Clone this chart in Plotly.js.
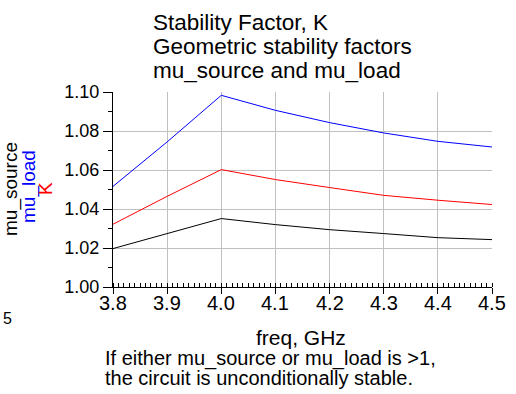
<!DOCTYPE html>
<html>
<head>
<meta charset="utf-8">
<script src="https://cdn.plot.ly/plotly-3.0.1.min.js"></script>
<style>html,body{margin:0;padding:0;background:#fff;}#chart{width:516px;height:394px;}</style>
</head>
<body>
<div id="chart"></div>
<script>
// Data
const freq = [3.8, 3.9, 4.0, 4.1, 4.2, 4.3, 4.4, 4.5];
const muSource = [1.0197, 1.0274, 1.0351, 1.0320, 1.0294, 1.0274, 1.0253, 1.0243];
const muLoad = [1.0516, 1.0744, 1.0983, 1.0906, 1.0843, 1.0790, 1.0747, 1.0718];
const kFactor = [1.0322, 1.0465, 1.0602, 1.0551, 1.0510, 1.0470, 1.0445, 1.0423];
const xTicks = [3.8, 3.9, 4.0, 4.1, 4.2, 4.3, 4.4, 4.5];
const yTicks = [1.00, 1.02, 1.04, 1.06, 1.08, 1.10];
const titleLines = ["Stability Factor, K", "Geometric stability factors", "mu_source and mu_load"];
const noteLines = ["If either mu_source or mu_load is >1,", "the circuit is unconditionally stable."];

const FONT = "Liberation Sans, Arial, sans-serif";
const W = 516, H = 394;
const M = {l: 113, r: 24, t: 92, b: 107};
const pw = W - M.l - M.r, ph = H - M.t - M.b;
const px = x => (x - M.l) / pw;
const py = y => (H - M.b - y) / ph;

const traces = [
  {x: freq, y: muSource, mode: 'lines', line: {color: '#000000', width: 1}, name: 'mu_source'},
  {x: freq, y: kFactor, mode: 'lines', line: {color: '#ff0000', width: 1}, name: 'K'},
  {x: freq, y: muLoad, mode: 'lines', line: {color: '#0000ff', width: 1}, name: 'mu_load'}
];

const ann = [];
// x tick labels placed on the x axis scale
xTicks.forEach(v => ann.push({
  text: v.toFixed(1), xref: 'x', yref: 'paper', x: v, y: py(303),
  xanchor: 'center', yanchor: 'middle', showarrow: false,
  font: {family: FONT, size: 20, color: '#000'}
}));
titleLines.forEach((t, i) => ann.push({
  text: t, xref: 'paper', yref: 'paper', x: px(151), y: py(23 + i * 23.7),
  xanchor: 'left', yanchor: 'middle', showarrow: false,
  font: {family: FONT, size: 22.5, color: '#000'}
}));
noteLines.forEach((t, i) => ann.push({
  text: t, xref: 'paper', yref: 'paper', x: px(103), y: py(358 + i * 19.5),
  xanchor: 'left', yanchor: 'middle', showarrow: false,
  font: {family: FONT, size: 20, color: '#000'}
}));
ann.push({text: 'freq, GHz', xref: 'paper', yref: 'paper', x: px(301), y: py(337),
  xanchor: 'center', yanchor: 'middle', showarrow: false, font: {family: FONT, size: 21, color: '#000'}});
ann.push({text: 'mu_source', xref: 'paper', yref: 'paper', x: px(11), y: py(189), textangle: -90,
  xanchor: 'center', yanchor: 'middle', showarrow: false, font: {family: FONT, size: 19, color: '#000'}});
ann.push({text: 'mu_load', xref: 'paper', yref: 'paper', x: px(29), y: py(187), textangle: -90,
  xanchor: 'center', yanchor: 'middle', showarrow: false, font: {family: FONT, size: 19, color: '#0000ff'}});
ann.push({text: 'K', xref: 'paper', yref: 'paper', x: px(45), y: py(189), textangle: -90,
  xanchor: 'center', yanchor: 'middle', showarrow: false, font: {family: FONT, size: 19, color: '#ff0000'}});
ann.push({text: '5', xref: 'paper', yref: 'paper', x: px(8), y: py(318),
  xanchor: 'center', yanchor: 'middle', showarrow: false, font: {family: FONT, size: 16, color: '#000'}});

const layout = {
  width: W, height: H, margin: M, showlegend: false,
  paper_bgcolor: '#fff', plot_bgcolor: '#fff',
  font: {family: FONT, color: '#000'},
  xaxis: {
    range: [3.8, 4.5], tickvals: xTicks, showticklabels: false,
    showgrid: true, gridcolor: '#c0c0c0', gridwidth: 1, zeroline: false,
    showline: true, linecolor: '#000', linewidth: 1, mirror: false,
    ticks: 'outside', ticklen: 6, tickcolor: '#000',
    minor: {dtick: 0.01, ticks: 'inside', ticklen: 4, tickcolor: '#000', showgrid: false}
  },
  yaxis: {
    range: [1.0, 1.1], tickvals: yTicks, ticktext: yTicks.map(v => v.toFixed(2)),
    showgrid: true, gridcolor: '#c0c0c0', gridwidth: 1, zeroline: false,
    showline: true, linecolor: '#000', linewidth: 1, mirror: false,
    ticks: 'outside', ticklen: 9, tickcolor: '#000',
    minor: {dtick: 0.01, ticks: 'outside', ticklen: 4, tickcolor: '#000', showgrid: false},
    tickfont: {family: FONT, size: 18, color: '#000'}
  },
  annotations: ann
};

Plotly.newPlot('chart', traces, layout, {staticPlot: true, displayModeBar: false});
</script>
</body>
</html>
